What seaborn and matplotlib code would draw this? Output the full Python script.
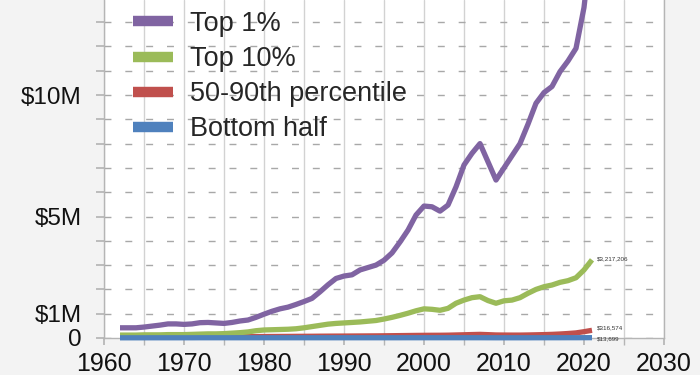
import numpy as np
import pandas as pd
import matplotlib
matplotlib.use("Agg")
import matplotlib.pyplot as plt
import seaborn as sns
from matplotlib.lines import Line2D
from matplotlib.ticker import MultipleLocator, FuncFormatter

# ==========================================
# Data (average wealth, millions of USD)
# ==========================================
years = list(range(1962, 2022))

top_1 = [0.42, 0.42, 0.42, 0.45, 0.49, 0.53, 0.58, 0.58, 0.56, 0.58,
         0.63, 0.64, 0.62, 0.60, 0.64, 0.70, 0.74, 0.85, 0.98, 1.10,
         1.20, 1.27, 1.38, 1.50, 1.63, 1.90, 2.19, 2.45, 2.55, 2.60,
         2.80, 2.90, 3.00, 3.20, 3.50, 3.95, 4.44, 5.06, 5.43, 5.40,
         5.22, 5.47, 6.22, 7.12, 7.60, 8.00, 7.25, 6.50, 7.00, 7.50,
         8.00, 8.80, 9.66, 10.10, 10.35, 10.96, 11.40, 11.92, 13.60, 16.50]

top_10 = [0.12, 0.12, 0.12, 0.13, 0.13, 0.13, 0.14, 0.14, 0.14, 0.15,
          0.16, 0.17, 0.17, 0.18, 0.20, 0.22, 0.25, 0.30, 0.33, 0.34,
          0.35, 0.36, 0.38, 0.42, 0.47, 0.52, 0.57, 0.60, 0.62, 0.64,
          0.66, 0.69, 0.72, 0.78, 0.85, 0.93, 1.02, 1.12, 1.20, 1.18,
          1.14, 1.22, 1.43, 1.56, 1.66, 1.70, 1.54, 1.43, 1.53, 1.56,
          1.66, 1.84, 2.00, 2.11, 2.18, 2.29, 2.36, 2.48, 2.80, 3.217206]

mid_50_90 = [0.045, 0.045, 0.046, 0.047, 0.048, 0.049, 0.050, 0.050, 0.050, 0.051,
             0.052, 0.053, 0.053, 0.054, 0.055, 0.056, 0.058, 0.059, 0.060, 0.062,
             0.064, 0.066, 0.068, 0.070, 0.072, 0.075, 0.077, 0.079, 0.080, 0.082,
             0.084, 0.086, 0.088, 0.091, 0.095, 0.099, 0.103, 0.107, 0.110, 0.112,
             0.113, 0.117, 0.125, 0.133, 0.142, 0.150, 0.138, 0.125, 0.122, 0.120,
             0.120, 0.125, 0.132, 0.140, 0.150, 0.165, 0.185, 0.210, 0.260, 0.316574]

bottom_50 = [0.008, 0.008, 0.008, 0.008, 0.009, 0.009, 0.009, 0.009, 0.009, 0.009,
             0.010, 0.010, 0.010, 0.010, 0.010, 0.010, 0.010, 0.010, 0.010, 0.010,
             0.010, 0.010, 0.010, 0.010, 0.010, 0.010, 0.010, 0.010, 0.010, 0.010,
             0.010, 0.010, 0.010, 0.010, 0.010, 0.010, 0.011, 0.011, 0.011, 0.011,
             0.011, 0.011, 0.011, 0.011, 0.011, 0.011, 0.010, 0.009, 0.009, 0.009,
             0.009, 0.009, 0.010, 0.010, 0.011, 0.011, 0.012, 0.012, 0.013, 0.013699]

series_names = ["Top 1%", "Top 10%", "50-90th percentile", "Bottom half"]
series_colors = ["#8064a2", "#9bbb59", "#c0504d", "#4f81bd"]
draw_order = ["50-90th percentile", "Top 10%", "Bottom half", "Top 1%"]
end_labels = {"Top 10%": "$3,217,206", "50-90th percentile": "$316,574",
              "Bottom half": "$13,699"}
y_labels = {0: "0", 1: "$1M", 5: "$5M", 10: "$10M"}

# ==========================================
# Plot
# ==========================================
sns.set_theme(style="white")
plt.rcParams["font.family"] = ["Liberation Sans", "DejaVu Sans"]

df = pd.DataFrame({"Year": years, "Top 1%": top_1, "Top 10%": top_10,
                   "50-90th percentile": mid_50_90, "Bottom half": bottom_50})
long_df = df.melt(id_vars="Year", var_name="Group", value_name="Wealth")
palette = dict(zip(series_names, series_colors))

fig = plt.figure(figsize=(7, 3.75), dpi=100, facecolor="#f3f3f3")
ax = fig.add_axes([104 / 700, 37 / 375, 560 / 700, 338 / 375])
ax.set_facecolor("white")

ax.set_xlim(1960, 2030)
ax.set_ylim(0, 338 / 24.3)
ax.xaxis.set_major_locator(MultipleLocator(10))
ax.xaxis.set_minor_locator(MultipleLocator(5))
ax.yaxis.set_major_locator(MultipleLocator(1))
ax.grid(axis="x", which="both", color="#d2d2d2", lw=1.0)
ax.grid(axis="y", which="major", color="#a8a8a8", lw=1.0, linestyle=(0, (5, 10)))
ax.set_axisbelow(True)

sns.lineplot(data=long_df, x="Year", y="Wealth", hue="Group", hue_order=draw_order,
             palette=palette, lw=3.8, ax=ax, legend=False,
             solid_joinstyle="round", solid_capstyle="butt")
# let the flat bottom line sit over the x axis (figure edge clips the top)
for line in ax.get_lines():
    line.set_clip_on(False)
    line.set_zorder(3)

# tiny end-of-line value labels
offsets = {"Top 10%": 0.05, "50-90th percentile": 0.09, "Bottom half": -0.05}
for name, txt in end_labels.items():
    yv = df[name].iloc[-1]
    ax.text(years[-1] + 0.6, yv + offsets[name], txt, fontsize=4.5,
            color="#333333", va="center", ha="left")

ax.yaxis.set_major_formatter(FuncFormatter(lambda v, p: y_labels.get(int(round(v)), "")))
ax.tick_params(axis="x", which="both", bottom=True, length=5, color="#b5b5b5", labelsize=18, pad=5)
ax.tick_params(axis="x", which="minor", labelbottom=False)
ax.tick_params(axis="y", left=True, length=6, color="#b5b5b5", labelsize=17.5, pad=10)
for tl in ax.get_xticklabels() + ax.get_yticklabels():
    tl.set_color("#111111")

ax.spines["top"].set_visible(False)
for side in ["left", "bottom", "right"]:
    ax.spines[side].set_color("#b5b5b5")
    ax.spines[side].set_linewidth(1.0)
ax.set_xlabel("")
ax.set_ylabel("")

handles = [Line2D([0], [0], color=c, lw=7.5, solid_capstyle="butt") for c in series_colors]
ax.legend(handles, series_names, loc="upper left", bbox_to_anchor=(0.0325, 1.0),
          frameon=False, fontsize=19.5, handlelength=1.48, handletextpad=0.62,
          labelspacing=0.34, borderaxespad=0.0)

plt.savefig("out.png", dpi=100, facecolor=fig.get_facecolor())
